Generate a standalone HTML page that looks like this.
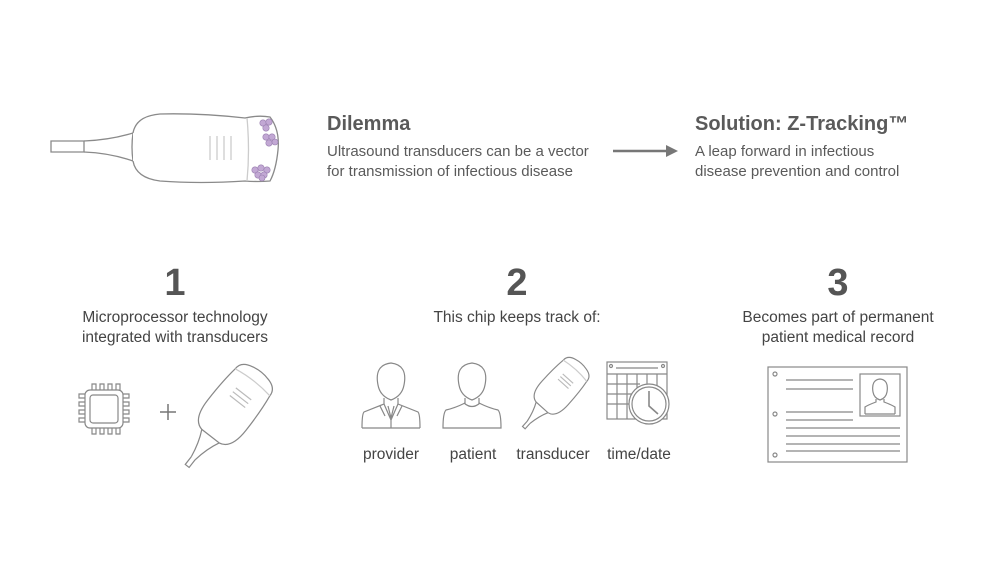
<!DOCTYPE html>
<html><head><style>
body{margin:0;background:#fff;}
svg{display:block;font-family:"Liberation Sans",sans-serif;}
</style></head><body>
<svg width="1000" height="563" viewBox="0 0 1000 563" xmlns="http://www.w3.org/2000/svg">
<g fill="none" stroke="#8a8a8a" stroke-width="1.3">
<path d="M51 141 H84 V152 H51 Z" fill="#fff"/>
<path d="M84 141 Q110 140 133 133 M84 152 Q110 153 133 161"/>
<path d="M133 133 Q131 147 133 161"/>
<path d="M133 133 Q136 116 160 114 Q200 113 245 118 Q258 115 270 117 Q280 130 278 150 Q276 170 270 181 Q258 182 245 181 Q200 184 160 181 Q136 178 133 161" fill="#fff"/>
<path d="M247 118 Q250 150 247 181" stroke="#ccc"/>
<path d="M210 136 V160 M217 136 V160 M224 136 V160 M231 136 V160" stroke="#ccc"/>
</g>
<g fill="#c2a8d4" stroke="#9a7fb0" stroke-width="0.6">
<circle cx="263" cy="123" r="3.2"/><circle cx="269" cy="122" r="3.2"/><circle cx="266" cy="128" r="3.2"/>
<circle cx="266" cy="137" r="3.2"/><circle cx="272" cy="137" r="3.2"/><circle cx="269" cy="143" r="3.2"/><circle cx="275" cy="142" r="3"/>
<circle cx="255" cy="170" r="3.2"/><circle cx="261" cy="168" r="3.2"/><circle cx="267" cy="170" r="3.2"/><circle cx="258" cy="175" r="3.2"/><circle cx="264" cy="175" r="3.2"/><circle cx="262" cy="178" r="3"/>
</g>
<g fill="#5a5a5a">
<text x="327" y="130" font-size="20" font-weight="bold">Dilemma</text>
<text x="327" y="156" font-size="15">Ultrasound transducers can be a vector</text>
<text x="327" y="176" font-size="15">for transmission of infectious disease</text>
<text x="695" y="130" font-size="20" font-weight="bold">Solution: Z-Tracking™</text>
<text x="695" y="156" font-size="15">A leap forward in infectious</text>
<text x="695" y="176" font-size="15">disease prevention and control</text>
</g>
<path d="M613 151 H668" stroke="#777" stroke-width="2.5"/>
<path d="M666 145 L678 151 L666 157 Z" fill="#777"/>
<g fill="#555" font-size="38" font-weight="bold" text-anchor="middle">
<text x="175" y="295">1</text><text x="517" y="295">2</text><text x="838" y="295">3</text>
</g>
<g fill="#444" font-size="15.5" text-anchor="middle">
<text x="175" y="322">Microprocessor technology</text>
<text x="175" y="342">integrated with transducers</text>
<text x="517" y="322">This chip keeps track of:</text>
<text x="838" y="322">Becomes part of permanent</text>
<text x="838" y="342">patient medical record</text>
<text x="391" y="459">provider</text>
<text x="473" y="459">patient</text>
<text x="553" y="459">transducer</text>
<text x="639" y="459">time/date</text>
</g>
<g fill="none" stroke="#888" stroke-width="1.2">
<rect x="85" y="390" width="38" height="38" rx="5"/>
<rect x="90" y="395" width="28" height="28" rx="3"/>
<path d="M92 390 v-6 h4 v6 M100 390 v-6 h4 v6 M108 390 v-6 h4 v6 M116 390 v-6 h4 v6"/>
<path d="M92 428 v6 h4 v-6 M100 428 v6 h4 v-6 M108 428 v6 h4 v-6 M116 428 v6 h4 v-6"/>
<path d="M85 394 h-6 v4 h6 M85 402 h-6 v4 h6 M85 410 h-6 v4 h6 M85 418 h-6 v4 h6"/>
<path d="M123 394 h6 v4 h-6 M123 402 h6 v4 h-6 M123 410 h6 v4 h-6 M123 418 h6 v4 h-6"/>
<path d="M160 412 h16 M168 404 v16" stroke="#777" stroke-width="1.5"/>
<g transform="translate(227,415) rotate(-52) scale(1.22)" stroke-width="1">
<path d="M-45 -2 h-8 v4 h8" />
<path d="M-45 -2 Q-32 -4 -22 -9 M-45 2 Q-32 4 -22 9"/>
<path d="M-22 -9 Q-20 -20 0 -20 Q20 -20 34 -18 Q42 -18 44 -8 Q46 0 44 8 Q42 18 34 18 Q20 20 0 20 Q-20 20 -22 9 Z"/>
<path d="M34 -18 Q37 0 34 18" stroke="#ccc"/>
<path d="M14 -8 v16 M18 -8 v16 M22 -8 v16" stroke="#bbb"/>
</g>
<path d="M378 385 Q374 365 391 363 Q408 365 404 385 Q402 396 391 400 Q380 396 378 385 Z"/>
<path d="M384 398 v6 L364 412 Q362 414 362 428 M398 398 v6 L418 412 Q420 414 420 428 M362 428 H420"/>
<path d="M384 404 L391 420 L398 404 M388 406 L391 418 L394 406 M391 420 V428 M380 406 L385 416 M402 406 L397 416"/>
<path d="M459 385 Q455 365 472 363 Q489 365 485 385 Q483 396 472 400 Q461 396 459 385 Z"/>
<path d="M465 398 v5 Q455 408 446 410 Q443 413 443 428 H501 Q501 413 498 410 Q489 408 479 403 v-5"/>
<path d="M464 403 Q472 410 480 403"/>
<g transform="translate(555,393) rotate(-48) scale(0.88)" stroke-width="1.3">
<path d="M-45 -2 h-8 v4 h8" />
<path d="M-45 -2 Q-32 -4 -22 -9 M-45 2 Q-32 4 -22 9"/>
<path d="M-22 -9 Q-20 -20 0 -20 Q20 -20 34 -18 Q42 -18 44 -8 Q46 0 44 8 Q42 18 34 18 Q20 20 0 20 Q-20 20 -22 9 Z"/>
<path d="M34 -18 Q37 0 34 18" stroke="#ccc"/>
<path d="M14 -8 v16 M18 -8 v16 M22 -8 v16" stroke="#bbb"/>
</g>
<rect x="607" y="362" width="60" height="57"/>
<path d="M607 374 H667 M616 368 H658 M607 384 H640 M607 394 H636 M607 404 H635 M617 374 V419 M627 374 V419 M637 374 V412 M647 374 V395 M657 374 V388"/>
<circle cx="611" cy="366" r="1.5"/><circle cx="663" cy="366" r="1.5"/>
<circle cx="649" cy="404" r="20" fill="#fff"/><circle cx="649" cy="404" r="17"/>
<path d="M649 391 V406 L658 414" stroke-width="1.6"/>
<rect x="768" y="367" width="139" height="95"/>
<circle cx="775" cy="374" r="2"/><circle cx="775" cy="414" r="2"/><circle cx="775" cy="455" r="2"/>
<path d="M786 380 H853 M786 389 H853 M786 412 H853 M786 420 H853 M786 428 H900 M786 436 H900 M786 444 H900 M786 451 H900"/>
<rect x="860" y="374" width="40" height="42"/>
<path d="M873 392 Q871 380 880 379 Q889 380 887 392 Q886 398 880 400 Q874 398 873 392 Z M876 399 v3 Q868 405 865 407 V414 M884 399 v3 Q892 405 895 407 V414 M865 414 H895"/>
</g>
</svg>
</body></html>
